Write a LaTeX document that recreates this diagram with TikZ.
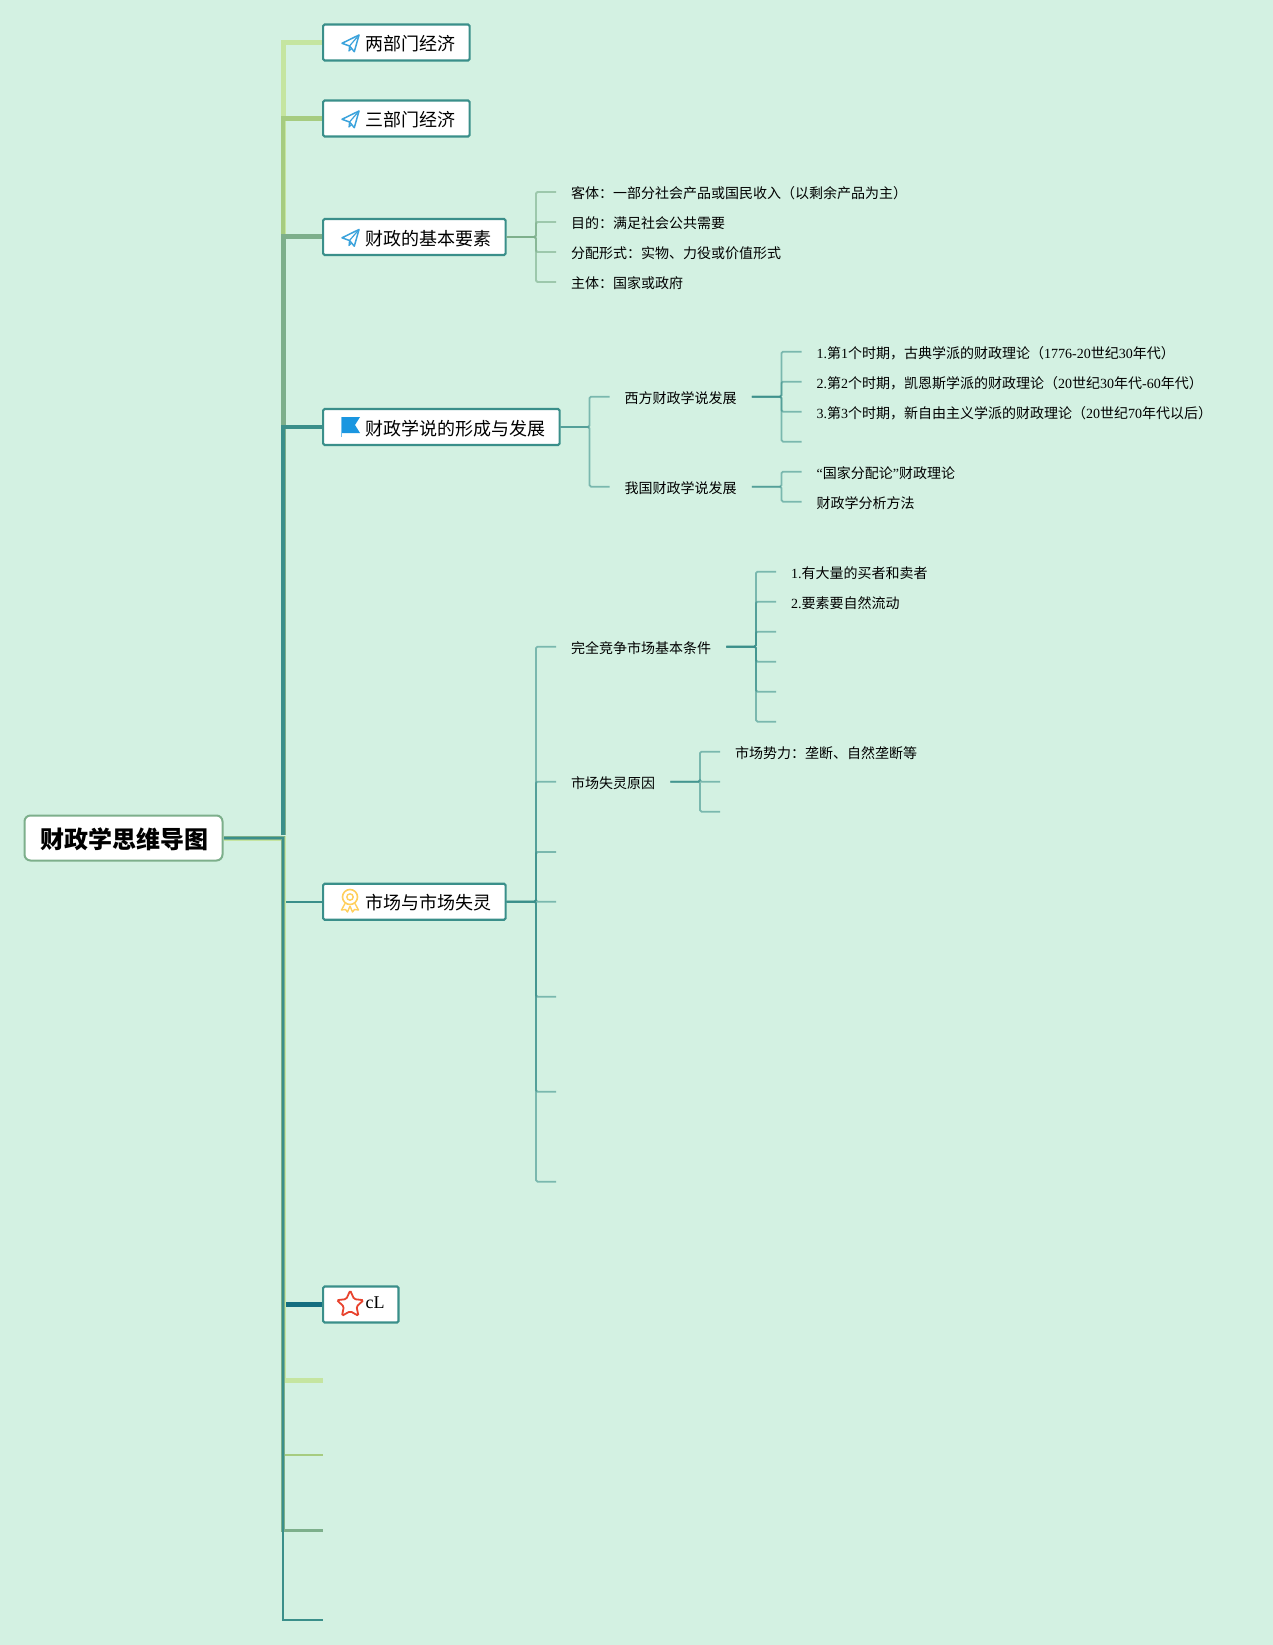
\documentclass[tikz,border=0pt]{standalone}
\usepackage{fontspec}
\usetikzlibrary{shapes.geometric}
\setmainfont{Liberation Serif}
\newfontfamily\cjfont{Noto Sans CJK SC}
\newcommand{\cj}[1]{{\cjfont #1}}
\definecolor{bgc}{HTML}{D3F1E2}
\definecolor{lime}{HTML}{C5E5A0}
\definecolor{leaf}{HTML}{A6CC80}
\definecolor{sage}{HTML}{7DAF8B}
\definecolor{teal1}{HTML}{3A8F8A}
\definecolor{deep}{HTML}{146E80}
\definecolor{planeblue}{HTML}{3BA3DC}
\definecolor{flagblue}{HTML}{1A96E0}
\definecolor{gold}{HTML}{FFCF5C}
\definecolor{starred}{HTML}{E8432E}
\tikzset{
  topic/.style={draw=teal1,line width=2.2pt,fill=white,rounded corners=1.5pt,anchor=west,inner xsep=0pt,inner ysep=0pt,minimum height=36pt,text height=20pt,text depth=3.6pt,
    font=\fontsize{18}{20}\selectfont,execute at begin node={\hspace*{42.5pt}},execute at end node={\hspace*{14pt}}},
  rootbox/.style={draw=sage,line width=2pt,fill=white,rounded corners=6pt,minimum width=198pt,minimum height=45pt,text height=26pt,text depth=4.6pt,font=\fontsize{24}{26}\selectfont\bfseries},
  leaftext/.style={anchor=west,inner xsep=15pt,inner ysep=0pt,text height=16pt,text depth=2.7pt,font=\fontsize{14}{16}\selectfont},
  trunk/.style={line width=#1,line join=miter},
  twigG/.style={draw=sage,line width=1.8pt,opacity=.62,rounded corners=1.5pt},
  twigT/.style={draw=teal1,line width=1.8pt,opacity=.58,rounded corners=1.5pt},
  planeicon/.pic={
    \draw[planeblue,line width=1.5pt,line join=round] (8.5,-8)--(-8.5,.3)--(-1,3)--(3.8,8.7)--cycle;
    \draw[planeblue,line width=1.2pt,line join=round] (8.5,-8)--(-1,3)--(-1.5,8)--(1,5.5);
  },
}
\begin{document}
\begin{tikzpicture}[x=1pt,y=-1pt]
\useasboundingbox (0,0) rectangle (1273,1645);
\fill[bgc] (0,0) rectangle (1273,1645);

% root and topics
\node[rootbox] (root) at (123.5,838) {\cjfont\hspace*{1.5pt}财政学思维导图};
\node[topic] (t1) at (322,42.5) {\cj{两部门经济}};
\node[topic] (t2) at (322,118.5) {\cj{三部门经济}};
\node[topic] (t3) at (322,237) {\cj{财政的基本要素}};
\node[topic] (t4) at (322,427) {\cj{财政学说的形成与发展}};
\node[topic] (t5) at (322,901.7) {\cj{市场与市场失灵}};
\node[topic,text height=12pt,text depth=4pt] (t6) at (322,1304.5) {cL};
\coordinate (e1) at (323,1380);
\coordinate (e2) at (323,1455);
\coordinate (e3) at (323,1530.5);
\coordinate (e4) at (323,1620);
\coordinate (tjoin) at (283,835);
\coordinate (j5) at (286,901.7);
\coordinate (j6) at (286,1304.5);

% trunk, upper half
\draw[trunk=5pt,lime] (tjoin) |- (t1.west);
\draw[trunk=4.5pt,leaf] (tjoin) |- (t2.west);
\draw[trunk=5pt,sage] (tjoin) |- (t3.west);
\draw[trunk=4.5pt,teal1] (tjoin) |- (t4.west);
% trunk, lower half
\draw[trunk=5pt,lime] (root.east) -| ([xshift=-40pt]e1.west) -- (e1.west);
\draw[trunk=2.2pt,leaf] (root.east) -| ([xshift=-40pt]e2.west) -- (e2.west);
\draw[trunk=3.4pt,sage] (root.east) -| ([xshift=-40pt]e3.west) -- (e3.west);
\draw[trunk=2.2pt,teal1] (root.east) -| ([xshift=-40pt]e4.west) -- (e4.west);
\draw[trunk=2.4pt,teal1] (j5) -- (t5.west);
\draw[trunk=5pt,deep] (j6) -- (t6.west);

% icons
\pic at (350.5,43) {planeicon};
\pic at (350.5,119) {planeicon};
\pic at (350.5,237.5) {planeicon};
\fill[flagblue] (342,417)--(360,417)--(355,425)--(360,433)--(342,433)--cycle;
\draw[flagblue!60,line width=1pt] (341.5,417)--(341.5,437);
\draw[gold,line width=1.6pt] (350,897) circle (7.5pt);
\draw[gold,line width=1.4pt] (350,897) circle (3.2pt);
\draw[gold,line width=1.4pt,line join=round] (345,903.5)--(341.5,910)--(345.5,909.5)--(347.5,912)--(350,906);
\draw[gold,line width=1.4pt,line join=round] (355,903.5)--(358.5,910)--(354.5,909.5)--(352.5,912)--(350,906);
\node[star,star points=5,star point ratio=2.1,minimum size=28pt,inner sep=0pt,draw=starred,line width=1.8pt,rounded corners=1.5pt,fill=white] (staricon) at (350.2,1304.5) {};

% third element group
\node[leaftext] (a1) at (556,192) {\cj{客体：一部分社会产品或国民收入（以剩余产品为主）}};
\node[leaftext] (a2) at (556,222) {\cj{目的：满足社会公共需要}};
\node[leaftext] (a3) at (556,252) {\cj{分配形式：实物、力役或价值形式}};
\node[leaftext] (a4) at (556,282) {\cj{主体：国家或政府}};
\foreach \c in {a1,a2,a3,a4} \draw[twigG] (t3.east) -| ([xshift=-20pt]\c.west) -- (\c.west);

% theory group
\node[leaftext] (b1) at (609.5,396.7) {\cj{西方财政学说发展}};
\node[leaftext] (b2) at (609.5,486.7) {\cj{我国财政学说发展}};
\foreach \c in {b1,b2} \draw[twigT] (t4.east) -| ([xshift=-20pt]\c.west) -- (\c.west);
\node[leaftext] (b11) at (801.5,351.7) {1.\cj{第}1\cj{个时期，古典学派的财政理论（}1776-20\cj{世纪}30\cj{年代）}};
\node[leaftext] (b12) at (801.5,381.7) {2.\cj{第}2\cj{个时期，凯恩斯学派的财政理论（}20\cj{世纪}30\cj{年代}-60\cj{年代）}};
\node[leaftext] (b13) at (801.5,411.7) {3.\cj{第}3\cj{个时期，新自由主义学派的财政理论（}20\cj{世纪}70\cj{年代以后）}};
\coordinate (b14) at (801.5,441.7);
\foreach \c in {b11,b12,b13,b14} \draw[twigT] (b1.east) -| ([xshift=-20pt]\c.west) -- (\c.west);
\node[leaftext] (b21) at (801.5,471.7) {“\cj{国家分配论}”\cj{财政理论}};
\node[leaftext] (b22) at (801.5,501.7) {\cj{财政学分析方法}};
\foreach \c in {b21,b22} \draw[twigT] (b2.east) -| ([xshift=-20pt]\c.west) -- (\c.west);

% market group
\node[leaftext] (m1) at (556,646.7) {\cj{完全竞争市场基本条件}};
\node[leaftext] (m2) at (556,781.7) {\cj{市场失灵原因}};
\coordinate (m3) at (556,852);
\coordinate (m4) at (556,901.7);
\coordinate (m5) at (556,996.7);
\coordinate (m6) at (556,1091.7);
\coordinate (m7) at (556,1181.7);
\foreach \c in {m1,m2,m3,m4,m5,m6,m7} \draw[twigT] (t5.east) -| ([xshift=-20pt]\c.west) -- (\c.west);
\node[leaftext] (n1) at (776,571.7) {1.\cj{有大量的买者和卖者}};
\node[leaftext] (n2) at (776,601.7) {2.\cj{要素要自然流动}};
\coordinate (n3) at (776,631.7);
\coordinate (n4) at (776,661.7);
\coordinate (n5) at (776,691.7);
\coordinate (n6) at (776,721.7);
\foreach \c in {n1,n2,n3,n4,n5,n6} \draw[twigT] (m1.east) -| ([xshift=-20pt]\c.west) -- (\c.west);
\node[leaftext] (p1) at (720,751.7) {\cj{市场势力：垄断、自然垄断等}};
\coordinate (p2) at (720,781.7);
\coordinate (p3) at (720,811.7);
\foreach \c in {p1,p2,p3} \draw[twigT] (m2.east) -| ([xshift=-20pt]\c.west) -- (\c.west);
\end{tikzpicture}
\end{document}
